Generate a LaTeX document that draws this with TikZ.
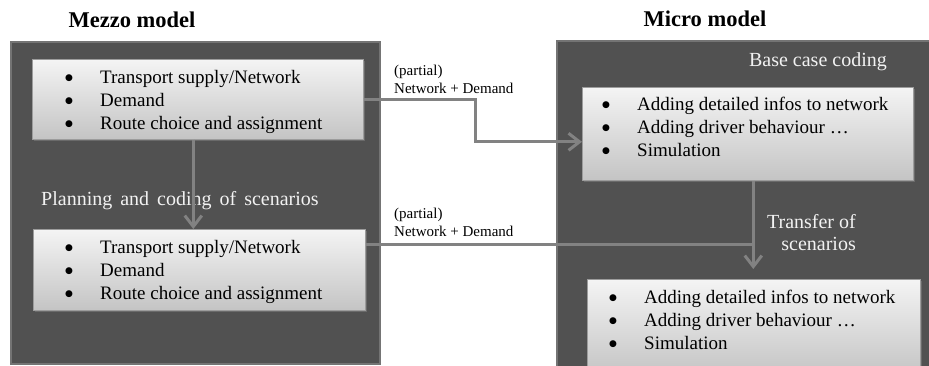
\documentclass[tikz,border=0pt]{standalone}
\usepackage{fontspec}
\setmainfont{Liberation Serif}
\newfontfamily\dotfont{DejaVu Sans}
\usetikzlibrary{arrows.meta,shadows,calc}

\definecolor{panelfill}{HTML}{515151}
\definecolor{paneledge}{HTML}{747474}
\definecolor{cardtop}{HTML}{F4F4F4}
\definecolor{cardbot}{HTML}{C4C4C4}
\definecolor{cardedge}{HTML}{9C9C9C}
\definecolor{linkgray}{HTML}{828282}
\definecolor{paneltext}{HTML}{F2F2F2}

% a round bullet from DejaVu Sans, set small so it sits on the x-height
\newcommand{\bigdot}{\raisebox{2.4pt}{\dotfont\fontsize{9}{10}\selectfont ●}}
% three bullet rows set in a two-column table
\newcommand{\bulletrows}[3]{%
  \begin{tabular}[t]{@{}p{35pt}@{}l@{}}
    \bigdot&#1\\ \bigdot&#2\\ \bigdot&#3
  \end{tabular}}

\begin{document}
\begin{tikzpicture}[x=1pt,y=-1pt,
  panel/.style={draw=paneledge, line width=2pt, fill=panelfill, inner sep=0pt, anchor=north west},
  card/.style={draw=cardedge, line width=0.6pt, top color=cardtop, bottom color=cardbot,
    inner sep=0pt, anchor=north west,
    drop shadow={shadow xshift=1.6pt, shadow yshift=-1.6pt, opacity=0.55}},
  cardtext/.style={anchor=base west, inner sep=0pt, font=\fontsize{19}{23}\selectfont},
  headtitle/.style={inner sep=0pt, font=\fontsize{22.5}{27}\selectfont\bfseries},
  paneltitle/.style={inner sep=0pt, text=paneltext, font=\fontsize{20}{22}\selectfont},
  linklabel/.style={inner sep=0pt, align=left, anchor=west, font=\fontsize{15}{18}\selectfont},
  link/.style={draw=linkgray, line width=3pt},
  linkhead/.style={-{Straight Barb[length=11pt,width=17pt]}}]

\useasboundingbox (0,0) rectangle (929,365);

% column titles
\node[headtitle] (mezzoTitle) at (132,20) {Mezzo model};
\node[headtitle] (microTitle) at (705,19) {Micro model};

% dark panels
\node[panel, minimum width=369pt, minimum height=322pt] (mezzoPanel) at (10,41) {};
\node[panel, minimum width=380pt, minimum height=335pt] (microPanel) at (556,40) {};

% light cards
\node[card, minimum width=331pt, minimum height=80pt] (mezzoA) at (32,59) {};
\node[card, minimum width=332pt, minimum height=81pt] (mezzoB) at (33,229) {};
\node[card, minimum width=331pt, minimum height=93pt] (microA) at (582,87) {};
\node[card, minimum width=333pt, minimum height=96pt] (microB) at (587,279) {};

% card contents
\node[cardtext] (mezzoAtext) at (65,83)
  {\bulletrows{Transport supply/Network}{Demand}{Route choice and assignment}};
\node[cardtext] (mezzoBtext) at (65,253)
  {\bulletrows{Transport supply/Network}{Demand}{Route choice and assignment}};
\node[cardtext] (microAtext) at (602,110)
  {\bulletrows{Adding detailed infos to network}{Adding driver behaviour …}{Simulation}};
\node[cardtext] (microBtext) at (609,303)
  {\bulletrows{Adding detailed infos to network}{Adding driver behaviour …}{Simulation}};

% panel captions
\node[paneltitle, anchor=west] (planText) at (41,201)
  {\spaceskip=0.4em Planning and coding of scenarios};
\node[paneltitle, anchor=east] (baseText) at (887,62) {Base case coding};
\node[paneltitle, anchor=east, align=right] (transferText) at (856,233)
  {Transfer of\\scenarios};

% connector labels
\node[linklabel] (partialA) at (394,79) {(partial)\\Network + Demand};
\node[linklabel] (partialB) at (394,222) {(partial)\\Network + Demand};

% connectors
\coordinate (bendA) at (475,0);
\coordinate (inA) at ($(microA.west)+(0,8)$);
\draw[link, linkhead] (mezzoA.east) -| (bendA |- inA) -- (inA);

\coordinate (downL) at ([xshift=-4.5pt]mezzoA.south);
\draw[link, linkhead] (downL) -- (downL |- mezzoB.north);

\coordinate (downR) at ([xshift=5.5pt]microA.south);
\coordinate (outB) at ($(mezzoB.north east)+(0,15)$);
\draw[link] (outB) -- (downR |- outB);
\draw[link, linkhead] (downR) -- ([yshift=10pt]downR |- microB.north);

\end{tikzpicture}
\end{document}
